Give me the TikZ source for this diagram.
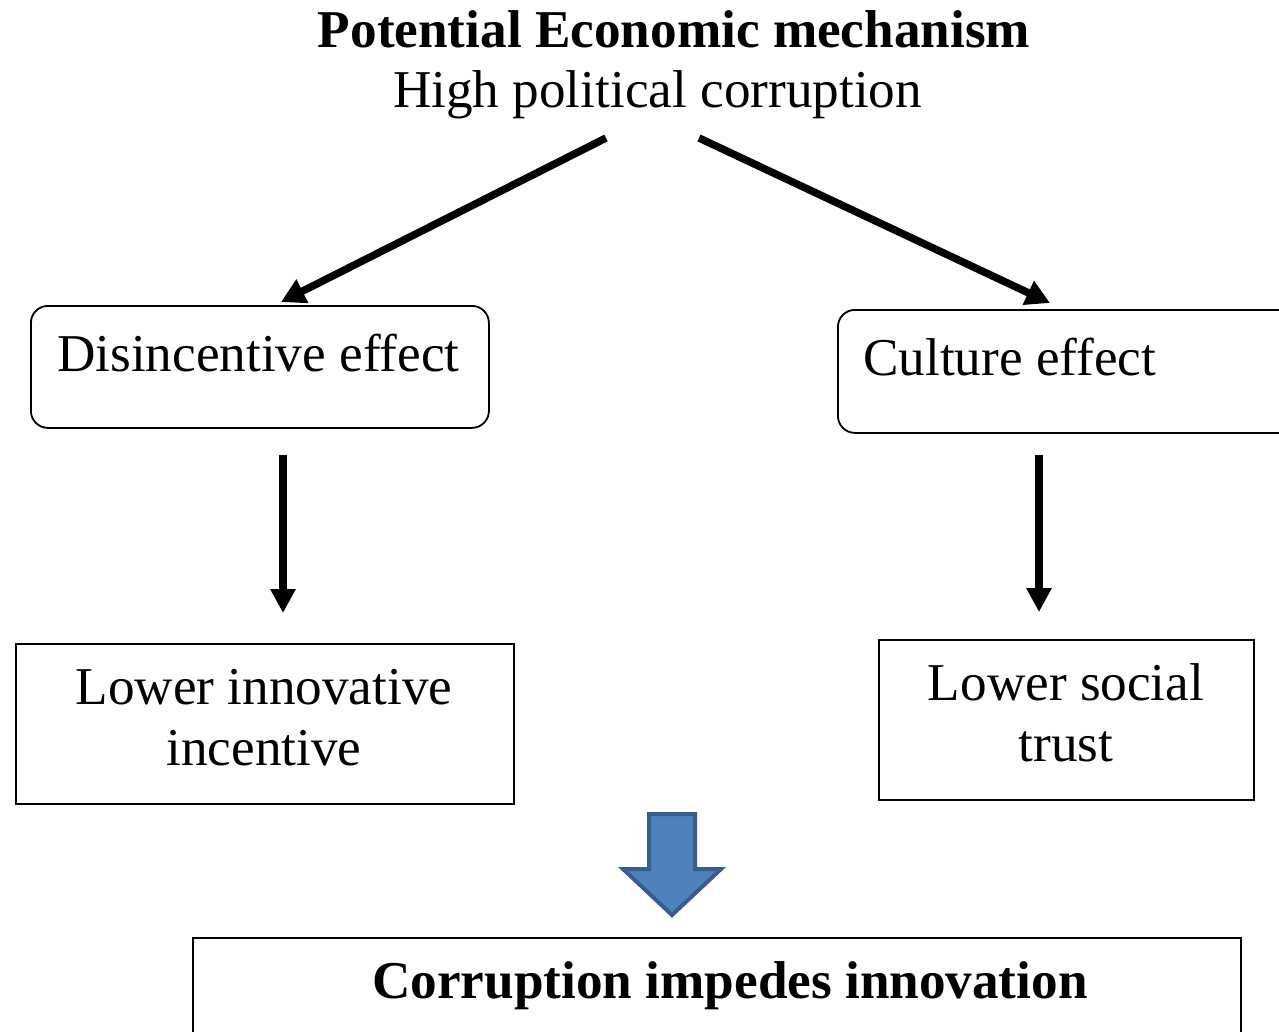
\documentclass[tikz,border=0pt]{standalone}
\usepackage{fontspec}
\setmainfont{Liberation Serif}
\usetikzlibrary{arrows.meta}
\definecolor{blockfill}{HTML}{4F81BD}
\definecolor{blockedge}{HTML}{385D8A}
\begin{document}
\begin{tikzpicture}[x=1pt,y=-1pt,
  txt/.style={inner sep=0pt, font=\fontsize{53.2}{61}\selectfont, align=center},
  roundbox/.style={draw, line width=1.8pt, rounded corners=17pt, inner sep=0pt, anchor=north west},
  plainbox/.style={draw, line width=1.8pt, inner sep=0pt, anchor=north west},
  flow/.style={line width=7.5pt, -{Triangle[length=24pt,width=25pt]}},
  drop/.style={line width=8pt, -{Triangle[length=24pt,width=24pt]}},
  blockarrow/.style={line width=4pt, draw=blockedge, fill=blockfill, line join=miter}
]
\useasboundingbox (0,0) rectangle (1279,1032);
\clip (0,0) rectangle (1279,1032);

% heading
\node[txt, anchor=base, font=\fontsize{53.2}{61}\selectfont\bfseries] (title) at (674,48) {Potential Economic mechanism};
\node[txt, anchor=base] (cause) at (657.5,108) {High political corruption};

% boxes
\node[roundbox, minimum width=458pt, minimum height=122pt] (disbox) at (30,305) {};
\node[roundbox, minimum width=470pt, minimum height=123pt] (culbox) at (837,309) {};
\node[plainbox, minimum width=498pt, minimum height=160pt] (innobox) at (15,643) {};
\node[plainbox, minimum width=375pt, minimum height=160pt] (trustbox) at (878,639) {};
\node[plainbox, minimum width=1048pt, minimum height=140pt] (resbox) at (192,937) {};

% box texts (base anchor of a two-line node sits on its last line)
\node[txt, anchor=base west] (distxt) at (57,371) {Disincentive effect};
\node[txt, anchor=base west] (cultxt) at (863,375) {Culture effect};
\node[txt, anchor=base] (innotxt) at (264,765) {Lower innovative\\incentive};
\node[txt, anchor=base] (trusttxt) at (1066,761) {Lower social\\trust};
\node[txt, anchor=base, font=\fontsize{53.2}{61}\selectfont\bfseries] (restxt) at (730,998) {Corruption impedes innovation};

% connector ends
\coordinate (leftstart) at (606,138);
\coordinate (leftend) at (281,302);
\coordinate (rightstart) at (699,138);
\coordinate (rightend) at (1050,303);
\coordinate (innostart) at (283,455);
\coordinate (innoend) at (283,613);
\coordinate (truststart) at (1039,455);
\coordinate (trustend) at (1039,612);

\draw[flow] (leftstart) -- (leftend);
\draw[flow] (rightstart) -- (rightend);
\draw[drop] (innostart) -- (innoend);
\draw[drop] (truststart) -- (trustend);

% block arrow towards the conclusion
\draw[blockarrow] (649,814) -- (695,814) -- (695,869) -- (721,869) -- (672,915)
  -- (623,869) -- (649,869) -- cycle;
\end{tikzpicture}
\end{document}
